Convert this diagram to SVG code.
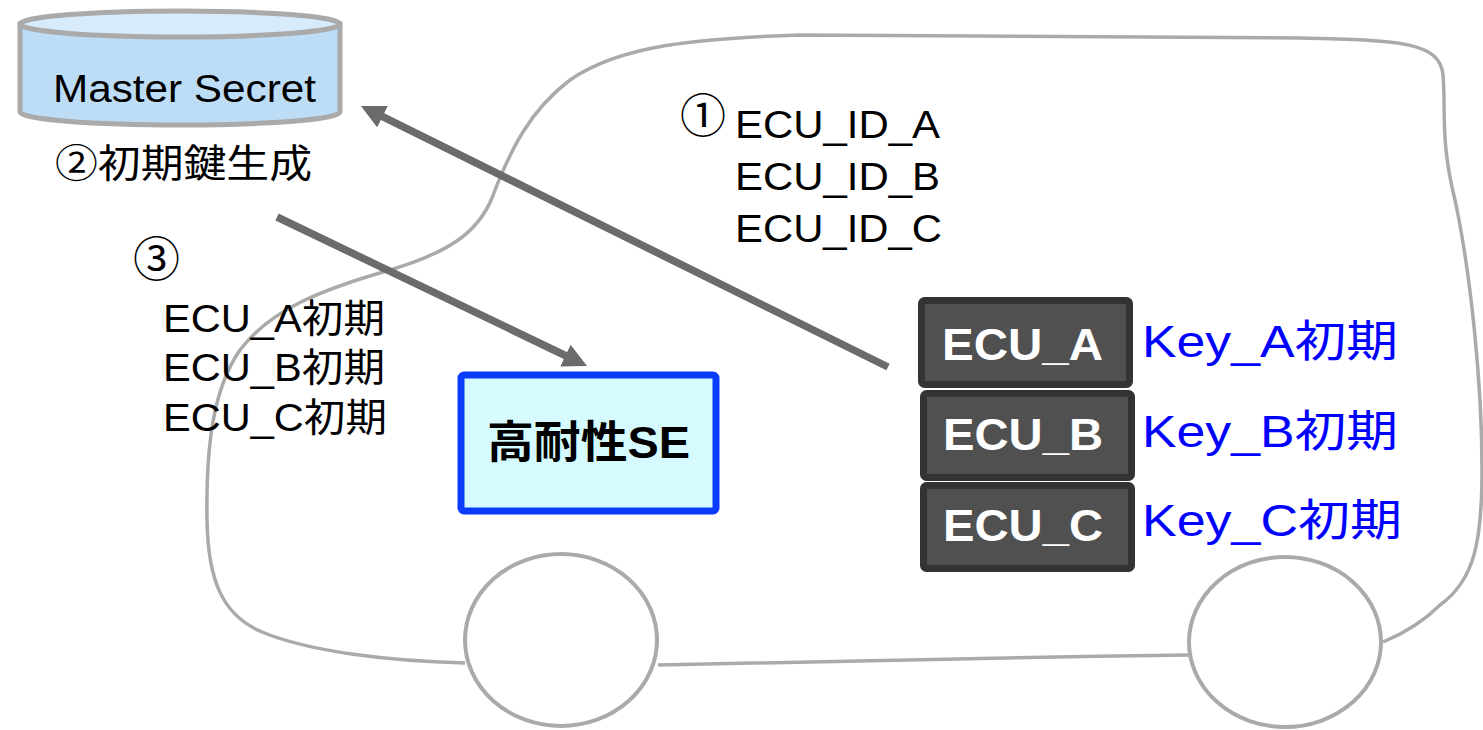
<svg xmlns="http://www.w3.org/2000/svg" width="1483" height="730" viewBox="0 0 1483 730">
  <style>
    .outline { fill: none; stroke: #aaaaaa; stroke-width: 3.5; stroke-linejoin: round; }
    .wheel { fill: #ffffff; stroke: #aaaaaa; stroke-width: 4; }
    .txt { font-family: "Liberation Sans", "Noto Sans CJK JP", sans-serif; fill: #000000; }
    .cjk { font-family: "Noto Sans CJK JP", sans-serif; fill: #000000; }
    .ecu-box { fill: #505050; stroke: #333333; stroke-width: 7; }
    .ecu-txt { font-family: "Liberation Sans", sans-serif; font-weight: bold; font-size: 45px; fill: #ffffff; }
    .key-txt { font-family: "Liberation Sans", "Noto Sans CJK JP", sans-serif; font-size: 44px; fill: #0000ff; }
    .flow { fill: none; stroke: #6b6b6b; stroke-width: 7.5; }
  </style>
  <defs>
    <marker id="head" viewBox="0 0 24 24" markerUnits="userSpaceOnUse" markerWidth="24" markerHeight="24" refX="1" refY="12" orient="auto">
      <path d="M0,0 L24,12 L0,24 z" fill="#6b6b6b"/>
    </marker>
  </defs>

  <!-- vehicle body sketch -->
  <g id="vehicle">
    <path class="outline" d="M465,663 C390,661 310,652 262,632 C222,615 208,580 207,520 C206,450 212,390 240,350 C270,310 320,290 390,270 C450,252 478,232 492,198 C510,150 530,110 570,80 C620,45 700,38 800,35 L1300,38 C1400,40 1440,42 1443,75 C1446,110 1440,140 1455,200 C1470,270 1482,380 1482,470 C1482,540 1475,580 1440,605 C1420,625 1400,635 1383,642"/>
    <path class="outline" d="M658,665 C800,662 1000,657 1189,655"/>
    <ellipse class="wheel" cx="561" cy="640" rx="96" ry="86"/>
    <ellipse class="wheel" cx="1285" cy="642" rx="96" ry="85"/>
  </g>

  <!-- master secret store -->
  <g id="master-secret">
    <path d="M20,24 L20,112 A160,13 0 0 0 340,112 L340,24 Z" fill="#bddcf5" stroke="#aaaaaa" stroke-width="5"/>
    <ellipse cx="180" cy="24" rx="160" ry="13" fill="#d8ebfb" stroke="#aaaaaa" stroke-width="5"/>
    <text class="txt" x="53" y="102" font-size="38" textLength="263" lengthAdjust="spacingAndGlyphs">Master Secret</text>
  </g>

  <g id="step2-label">
    <text class="cjk" x="55" y="177" font-size="39" textLength="257" lengthAdjust="spacingAndGlyphs">②初期鍵生成</text>
  </g>

  <g id="step1-label">
    <text class="cjk" x="680" y="132" font-size="46">①</text>
    <text class="txt" x="735" y="138" font-size="39" textLength="205" lengthAdjust="spacingAndGlyphs">ECU_ID_A</text>
    <text class="txt" x="735" y="190" font-size="39" textLength="205" lengthAdjust="spacingAndGlyphs">ECU_ID_B</text>
    <text class="txt" x="735" y="242" font-size="39" textLength="207" lengthAdjust="spacingAndGlyphs">ECU_ID_C</text>
  </g>

  <g id="step3-label">
    <text class="cjk" x="133" y="276" font-size="47">③</text>
    <text class="txt" x="163" y="332" font-size="39" textLength="222" lengthAdjust="spacingAndGlyphs">ECU_A初期</text>
    <text class="txt" x="163" y="381" font-size="39" textLength="222" lengthAdjust="spacingAndGlyphs">ECU_B初期</text>
    <text class="txt" x="163" y="431" font-size="39" textLength="224" lengthAdjust="spacingAndGlyphs">ECU_C初期</text>
  </g>

  <!-- flows -->
  <g id="connectors">
    <line class="flow" x1="277" y1="217" x2="566.3" y2="356" marker-end="url(#head)"/>
    <line class="flow" x1="888" y1="367" x2="381.6" y2="116.2" marker-end="url(#head)"/>
  </g>

  <g id="secure-element">
    <rect x="461" y="375" width="255" height="136" rx="3" fill="#d5fbff" stroke="#0a3cff" stroke-width="7"/>
    <text class="txt" x="487" y="458" font-size="44" font-weight="bold" textLength="203" lengthAdjust="spacingAndGlyphs">高耐性SE</text>
  </g>

  <g id="ecu-a">
    <rect class="ecu-box" x="921.5" y="300.5" width="208" height="84" rx="3"/>
    <text class="ecu-txt" x="942" y="360" textLength="161" lengthAdjust="spacingAndGlyphs">ECU_A</text>
    <text class="key-txt" x="1142" y="357" textLength="256" lengthAdjust="spacingAndGlyphs">Key_A初期</text>
  </g>

  <g id="ecu-b">
    <rect class="ecu-box" x="923.5" y="393.5" width="208" height="84" rx="3"/>
    <text class="ecu-txt" x="943" y="450" textLength="160" lengthAdjust="spacingAndGlyphs">ECU_B</text>
    <text class="key-txt" x="1142" y="447" textLength="256" lengthAdjust="spacingAndGlyphs">Key_B初期</text>
  </g>

  <g id="ecu-c">
    <rect class="ecu-box" x="923.5" y="485.5" width="208" height="83" rx="3"/>
    <text class="ecu-txt" x="943" y="541" textLength="160" lengthAdjust="spacingAndGlyphs">ECU_C</text>
    <text class="key-txt" x="1142" y="536" textLength="260" lengthAdjust="spacingAndGlyphs">Key_C初期</text>
  </g>
</svg>
